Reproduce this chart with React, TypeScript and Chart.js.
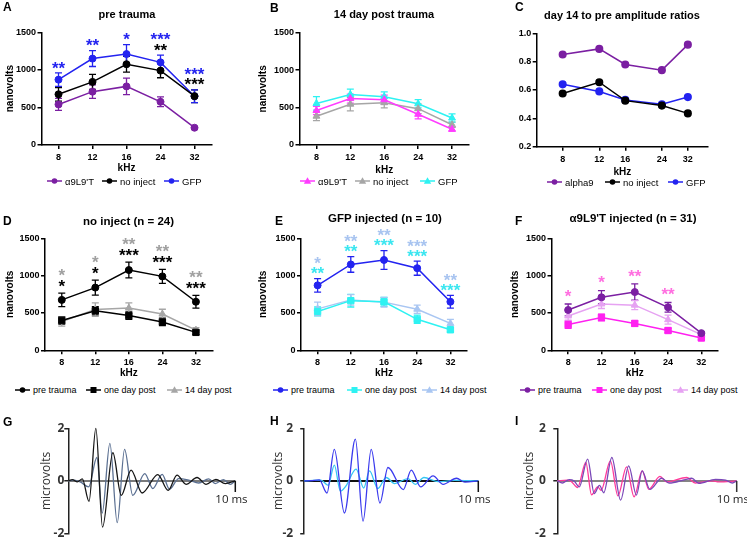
import React, { useEffect, useRef } from "react";
import { Chart, registerables } from "chart.js";
Chart.register(...registerables);

const FONT = "'Liberation Sans', Arial, Helvetica, sans-serif";
const WAVE_FONT = "'Open Sans', 'Liberation Sans', Arial, sans-serif";
Chart.defaults.font.family = FONT;
Chart.defaults.color = "#000";

// ---------- data ----------
const FREQ_LABELS = ["8", "12", "16", "24", "32"];
const FREQS = [8, 12, 16, 24, 32];

// pre trauma (nanovolts, mean and SEM)
const PRE_A9 = [540, 710, 780, 575, 230];
const PRE_A9_ERR = [80, 90, 110, 65, 15];
const PRE_NOINJ = [675, 840, 1075, 990, 650];
const PRE_NOINJ_ERR = [90, 100, 105, 95, 85];
const PRE_GFP = [870, 1150, 1210, 1100, 650];
const PRE_GFP_ERR = [90, 105, 125, 95, 85];

// one day post
const D1_NOINJ = [400, 530, 465, 380, 240];
const D1_NOINJ_ERR = [50, 55, 50, 50, 30];
const D1_GFP = [520, 665, 650, 415, 275];
const D1_GFP_ERR = [60, 85, 60, 55, 30];
const D1_A9 = [345, 440, 360, 265, 165];
const D1_A9_ERR = [50, 45, 35, 30, 25];

// 14 day post
const D14_A9 = [460, 620, 605, 410, 210];
const D14_A9_ERR = [55, 60, 60, 60, 25];
const D14_NOINJ = [385, 545, 565, 485, 270];
const D14_NOINJ_ERR = [60, 90, 70, 65, 35];
const D14_GFP = [555, 675, 645, 550, 360];
const D14_GFP_ERR = [90, 70, 65, 55, 55];

// day 14 / pre ratios
const RATIO_A9 = [0.85, 0.89, 0.78, 0.74, 0.92];
const RATIO_NOINJ = [0.575, 0.655, 0.525, 0.49, 0.435];
const RATIO_GFP = [0.64, 0.59, 0.53, 0.5, 0.55];

// significance labels per frequency
const A_STARS_NOINJ = ["", "", "", "**", "***"];
const A_STARS_GFP = ["**", "**", "*", "***", "***"];
const D_STARS_D1 = ["*", "*", "***", "***", "***"];
const D_STARS_D14 = ["*", "*", "**", "**", "**"];
const E_STARS_D1 = ["**", "**", "***", "***", "***"];
const E_STARS_D14 = ["*", "**", "**", "***", "**"];
const F_STARS_D1 = ["*", "*", "**", "**", ""];

// example waveforms (ms, microvolts)
const G_PRE_T = [0, 0.24, 0.54, 0.84, 1.24, 1.65, 2.05, 2.67, 3.17, 3.76, 4.42, 5.36, 5.98, 6.51, 7.05, 7.71, 8.25, 8.84, 9.4, 10];
const G_PRE_V = [0, 0.05, -0.04, 0.08, -0.78, 2.0, -1.76, 1.07, -0.55, 0.41, -0.46, 0.24, -0.36, 0.22, -0.13, 0.13, -0.13, 0.06, -0.1, 0];
const G_D14_T = [0, 0.34, 0.74, 1.22, 1.71, 2.03, 2.49, 2.93, 3.37, 3.86, 4.58, 5.06, 5.62, 6.06, 6.61, 7.21, 7.81, 8.41, 8.8, 9.3, 9.7, 10];
const G_D14_V = [0, 0.03, -0.05, -0.23, 0.89, -1.22, 1.43, -1.59, 1.2, -0.55, 0.28, -0.29, 0.25, -0.32, 0.09, 0.03, -0.08, 0.08, -0.1, 0.05, -0.13, 0];
const H_PRE_T = [0, 0.38, 0.87, 1.31, 1.73, 2.31, 2.94, 3.38, 3.85, 4.35, 4.81, 5.69, 6.15, 6.69, 7.4, 7.98, 8.75, 9.23, 10];
const H_PRE_V = [0, 0.01, 0.04, -0.46, 1.2, -1.22, 1.59, -1.53, 1.2, -0.84, 0.51, -0.33, 0.41, -0.23, 0.19, -0.13, 0.1, -0.05, 0];
const H_D1_T = [0, 0.96, 1.38, 1.73, 2.08, 2.4, 2.98, 3.42, 3.75, 4.23, 4.71, 5.19, 5.96, 6.38, 6.88, 7.69, 8.65, 10];
const H_D1_V = [0, 0.03, -0.17, 0.6, -0.39, -0.19, 0.45, -0.27, 0.38, -0.29, 0.13, -0.1, 0.09, -0.13, 0.13, -0.03, 0.02, 0];
const I_PRE_T = [0, 0.28, 0.66, 0.94, 1.22, 1.69, 2.06, 2.35, 2.59, 3.04, 3.53, 3.98, 4.41, 4.73, 5.16, 5.82, 6.23, 7.13, 7.5, 7.88, 8.82, 9.38, 9.76, 10];
const I_PRE_V = [0, -0.08, 0.05, 0, -0.23, 0.83, -0.48, -0.17, -0.45, 0.89, -0.73, 0.57, -0.54, 0.38, -0.32, 0.1, -0.08, 0.05, 0.1, -0.09, 0.06, 0.03, -0.08, 0];
const I_D1_T = [0, 0.56, 0.79, 1.13, 1.59, 1.91, 2.25, 2.44, 2.96, 3.38, 3.86, 4.28, 4.73, 5.1, 5.72, 6.1, 7.22, 7.69, 8.63, 9.01, 10];
const I_D1_V = [0, 0.03, -0.03, -0.25, 0.7, -0.53, -0.23, -0.36, 0.76, -0.57, 0.53, -0.61, 0.38, -0.32, 0.17, -0.04, 0.13, -0.08, 0, -0.04, 0];
const BASELINE_T = [0, 10];
const SCALE_MS = 10;
const SCALE_TICK = -0.42;

// ---------- colours ----------
const PURPLE = "#7b1fa2";
const BLUE = "#2323f0";
const BLACK = "#000000";
const MAGENTA = "#ff3cff";
const GRAY = "#a6a6a6";
const CYAN = "#2ef2f2";
const LIGHTBLUE = "#a9c6f2";
const LIGHTVIOLET = "#e6a2f2";

// ---------- plugins ----------
const errorBarsPlugin = {
  id: "errorBars",
  beforeDatasetsDraw(chart: any) {
    const ctx = chart.ctx;
    chart.data.datasets.forEach((ds: any, di: number) => {
      if (!ds.errors) return;
      const meta = chart.getDatasetMeta(di);
      const ys = chart.scales[meta.yAxisID];
      ctx.save();
      ctx.strokeStyle = ds.borderColor;
      ctx.lineWidth = 1.3;
      meta.data.forEach((pt: any, i: number) => {
        const v = ds.data[i];
        const e = ds.errors[i];
        const yT = ys.getPixelForValue(v + e);
        const yB = ys.getPixelForValue(v - e);
        const x = pt.x;
        const c = 3.5;
        ctx.beginPath();
        ctx.moveTo(x, yT);
        ctx.lineTo(x, yB);
        ctx.moveTo(x - c, yT);
        ctx.lineTo(x + c, yT);
        ctx.moveTo(x - c, yB);
        ctx.lineTo(x + c, yB);
        ctx.stroke();
      });
      ctx.restore();
    });
  },
};

type StarRow = { labels: string[]; color: string };
function makeStarsPlugin(rows: StarRow[], gap: number, rowH: number) {
  return {
    id: "stars",
    afterDatasetsDraw(chart: any) {
      if (!rows.length) return;
      const ctx = chart.ctx;
      const ys = chart.scales.y;
      const xs = chart.scales.x;
      const fs = 17;
      ctx.save();
      ctx.font = `bold ${fs}px ${FONT}`;
      ctx.textAlign = "center";
      ctx.textBaseline = "alphabetic";
      const n = chart.data.labels.length;
      for (let i = 0; i < n; i++) {
        let top = Infinity;
        chart.data.datasets.forEach((ds: any) => {
          if (ds.errors) top = Math.min(top, ys.getPixelForValue(ds.data[i] + ds.errors[i]));
        });
        const x = xs.getPixelForValue(i);
        let level = 0;
        rows.forEach((r) => {
          const s = r.labels[i];
          if (!s) return;
          const yc = top - gap - level * rowH;
          ctx.fillStyle = r.color;
          ctx.fillText(s, x, yc + 0.57 * fs);
          level++;
        });
      }
      ctx.restore();
    },
  };
}

function makeScaleLabelPlugin(text: string, color: string) {
  return {
    id: "scaleLabel",
    afterDraw(chart: any) {
      const ctx = chart.ctx;
      const x = chart.scales.x.getPixelForValue(SCALE_MS) - 20;
      const y = chart.scales.y.getPixelForValue(0) + 19;
      ctx.save();
      ctx.font = `11.5px ${WAVE_FONT}`;
      ctx.fillStyle = color;
      ctx.textAlign = "left";
      ctx.textBaseline = "middle";
      ctx.fillText(text, x, y);
      ctx.restore();
    },
  };
}

// ---------- configs ----------
type Series = { label: string; data: number[]; errors: number[]; color: string; point: string };

function axisCommon() {
  return {
    grid: { display: true, drawOnChartArea: false, drawTicks: true, tickLength: 4, color: "#000", lineWidth: 1.5 },
    border: { display: true, color: "#000", width: 1.5 },
  };
}

function lineConfig(o: {
  series: Series[];
  H: number;
  yw: number;
  padTop: number;
  padRight: number;
  chartBottom: number;
  kHzY: number;
  yTitleX: number;
  stars?: StarRow[];
  starGap?: number;
  starRowH?: number;
}) {
  const xh = o.H - o.chartBottom;
  const pb = o.H - o.kHzY - 6;
  return {
    type: "line",
    data: {
      labels: FREQ_LABELS,
      datasets: o.series.map((s) => ({
        label: s.label,
        data: s.data,
        errors: s.errors,
        borderColor: s.color,
        backgroundColor: s.color,
        pointBackgroundColor: s.color,
        pointBorderColor: s.color,
        pointStyle: s.point,
        pointRadius: s.point === "rect" ? 4.5 : s.point === "triangle" ? 4 : 3.5,
        pointBorderWidth: 1,
        borderWidth: 1.5,
        tension: 0,
        fill: false,
      })),
    },
    options: {
      responsive: false,
      animation: false,
      devicePixelRatio: 1,
      events: [],
      layout: { padding: { left: 0, top: o.padTop, right: o.padRight, bottom: 0 } },
      plugins: { legend: { display: false }, tooltip: { enabled: false }, title: { display: false } },
      scales: {
        x: {
          type: "category",
          offset: true,
          ...axisCommon(),
          grid: { ...axisCommon().grid, offset: false },
          ticks: { font: { weight: "bold", size: 9 }, color: "#000", padding: 3, maxRotation: 0, autoSkip: false },
          title: { display: true, text: "kHz", font: { weight: "bold", size: 10, lineHeight: 1.2 }, color: "#000", padding: { top: 0, bottom: pb } },
          afterFit: (s: any) => {
            s.height = xh;
          },
        },
        y: {
          min: 0,
          max: 1500,
          ...axisCommon(),
          ticks: { stepSize: 500, font: { weight: "bold", size: 9 }, color: "#000", padding: 1.5, callback: (v: any) => String(v) },
          title: { display: true, text: "nanovolts", font: { weight: "bold", size: 10, lineHeight: 1.2 }, color: "#000", padding: { top: o.yTitleX - 6, bottom: 0 } },
          afterFit: (s: any) => {
            s.width = o.yw;
          },
        },
      },
    },
    plugins: [errorBarsPlugin, makeStarsPlugin(o.stars || [], o.starGap || 9, o.starRowH || 10.5)],
  };
}

function ratioConfig() {
  const H = 180;
  const chartBottom = 146.7;
  const ser = [
    { label: "alpha9", data: RATIO_A9, color: PURPLE },
    { label: "no inject", data: RATIO_NOINJ, color: BLACK },
    { label: "GFP", data: RATIO_GFP, color: BLUE },
  ];
  return {
    type: "line",
    data: {
      datasets: ser.map((s) => ({
        label: s.label,
        data: FREQS.map((f, i) => ({ x: f, y: s.data[i] })),
        borderColor: s.color,
        backgroundColor: s.color,
        pointBackgroundColor: s.color,
        pointBorderColor: s.color,
        pointRadius: 3.3,
        borderWidth: 1.5,
        tension: 0,
      })),
    },
    options: {
      responsive: false,
      animation: false,
      devicePixelRatio: 1,
      events: [],
      layout: { padding: { left: 0, top: 33.3, right: 39, bottom: 0 } },
      plugins: { legend: { display: false }, tooltip: { enabled: false } },
      scales: {
        x: {
          type: "logarithmic",
          min: 6,
          max: 40,
          ...axisCommon(),
          afterBuildTicks: (s: any) => {
            s.ticks = FREQS.map((v) => ({ value: v }));
          },
          ticks: { font: { weight: "bold", size: 9 }, color: "#000", padding: 3, autoSkip: false, maxRotation: 0, callback: (v: any) => String(v) },
          title: { display: true, text: "kHz", font: { weight: "bold", size: 10, lineHeight: 1.2 }, color: "#000", padding: { top: 0, bottom: H - 172 - 6 } },
          afterFit: (s: any) => {
            s.height = H - chartBottom;
          },
        },
        y: {
          min: 0.2,
          max: 1.0,
          ...axisCommon(),
          ticks: { stepSize: 0.2, font: { weight: "bold", size: 9 }, color: "#000", padding: 1.5, callback: (v: any) => Number(v).toFixed(1) },
          afterFit: (s: any) => {
            s.width = 36.7;
          },
        },
      },
    },
  };
}

type Trace = { label: string; t: number[]; v: number[]; color: string };
function waveConfig(o: {
  traces: Trace[];
  zeroColor: string;
  tickColor: string;
  yw: number;
  padRight: number;
  tickPad: number;
  titleX: number;
}) {
  const H = 128;
  const top = 428.3 - 410;
  const bottom = 533.5 - 410;
  const datasets: any[] = o.traces.map((tr) => ({
    label: tr.label,
    data: tr.t.map((t, i) => ({ x: t, y: tr.v[i] })),
    borderColor: tr.color,
    borderWidth: 1.3,
    pointRadius: 0,
    cubicInterpolationMode: "monotone",
    fill: false,
    clip: false,
    order: 1,
  }));
  datasets.push({
    label: "baseline",
    data: BASELINE_T.map((t) => ({ x: t, y: 0 })),
    borderColor: o.zeroColor,
    borderWidth: 2,
    pointRadius: 0,
    clip: false,
    order: 2,
  });
  datasets.push({
    label: "scale",
    data: [
      { x: SCALE_MS, y: 0 },
      { x: SCALE_MS, y: SCALE_TICK },
    ],
    borderColor: o.tickColor,
    borderWidth: 1.5,
    pointRadius: 0,
    clip: false,
    order: 0,
  });
  return {
    type: "line",
    data: { datasets },
    options: {
      responsive: false,
      animation: false,
      devicePixelRatio: 1,
      events: [],
      layout: { padding: { left: 0, top, right: o.padRight, bottom: H - bottom } },
      plugins: { legend: { display: false }, tooltip: { enabled: false } },
      scales: {
        x: { type: "linear", min: 0, max: 10, display: false },
        y: {
          min: -2,
          max: 2,
          grid: { display: true, drawOnChartArea: false, drawTicks: true, tickLength: 4, color: "#222", lineWidth: 1.5 },
          border: { display: true, color: "#222", width: 1.5 },
          ticks: { stepSize: 2, font: { weight: "bold", size: 12, family: WAVE_FONT }, color: "#333", padding: o.tickPad, callback: (v: any) => String(v) },
          title: { display: true, text: "microvolts", font: { size: 12, family: WAVE_FONT, lineHeight: 1.2 }, color: "#333", padding: { top: o.titleX - 7.2, bottom: 0 } },
          afterFit: (s: any) => {
            s.width = o.yw;
            s.paddingTop = 0;
            s.paddingBottom = 0;
          },
        },
      },
    },
    plugins: [makeScaleLabelPlugin("10 ms", "#222")],
  };
}

// ---------- components ----------
function ChartBox({ left, top, width, height, make }: { left: number; top: number; width: number; height: number; make: () => any }) {
  const ref = useRef<HTMLCanvasElement>(null);
  useEffect(() => {
    const chart = new Chart(ref.current as HTMLCanvasElement, make());
    return () => chart.destroy();
  }, []);
  return <canvas ref={ref} width={width} height={height} style={{ position: "absolute", left, top, width, height }} />;
}

function Txt({ x, cy, text, size, bold, center }: { x: number; cy: number; text: string; size: number; bold?: boolean; center?: boolean }) {
  const style: any = {
    position: "absolute",
    top: cy - size * 0.6,
    height: size * 1.2,
    lineHeight: `${size * 1.2}px`,
    font: `${bold ? "bold " : ""}${size}px ${FONT}`,
    color: "#000",
    whiteSpace: "nowrap",
  };
  if (center) {
    style.left = x - 150;
    style.width = 300;
    style.textAlign = "center";
  } else {
    style.left = x;
  }
  return <div style={style}>{text}</div>;
}

function LegendItem({ x, y, color, marker, label, size }: { x: number; y: number; color: string; marker: string; label: string; size: number }) {
  return (
    <div style={{ position: "absolute", left: x, top: y - 7, height: 14, display: "flex", alignItems: "center", whiteSpace: "nowrap", font: `${size}px ${FONT}`, color: "#000" }}>
      <svg width={15} height={10} style={{ marginRight: 3, display: "block" }}>
        <line x1={0} y1={5} x2={15} y2={5} stroke={color} strokeWidth={1.5} />
        {marker === "circle" && <circle cx={7.5} cy={5} r={2.8} fill={color} />}
        {marker === "rect" && <rect x={4.5} y={2} width={6} height={6} fill={color} />}
        {marker === "triangle" && <polygon points="7.5,1.3 11.2,7.8 3.8,7.8" fill={color} />}
      </svg>
      <span>{label}</span>
    </div>
  );
}

const A9 = "α9L9'T";

export default function App() {
  return (
    <div style={{ position: "fixed", left: 0, top: 0, width: 747, height: 538, background: "#fff", overflow: "hidden" }}>
      {/* row 1 */}
      <ChartBox
        left={0}
        top={0}
        width={250}
        height={176}
        make={() =>
          lineConfig({
            series: [
              { label: A9, data: PRE_A9, errors: PRE_A9_ERR, color: PURPLE, point: "circle" },
              { label: "no inject", data: PRE_NOINJ, errors: PRE_NOINJ_ERR, color: BLACK, point: "circle" },
              { label: "GFP", data: PRE_GFP, errors: PRE_GFP_ERR, color: BLUE, point: "circle" },
            ],
            H: 176,
            yw: 41.5,
            padTop: 32.3,
            padRight: 38.5,
            chartBottom: 145,
            kHzY: 168,
            yTitleX: 10,
            stars: [
              { labels: A_STARS_NOINJ, color: BLACK },
              { labels: A_STARS_GFP, color: BLUE },
            ],
            starGap: 9,
            starRowH: 10.5,
          })
        }
      />
      <ChartBox
        left={250}
        top={0}
        width={250}
        height={176}
        make={() =>
          lineConfig({
            series: [
              { label: A9, data: D14_A9, errors: D14_A9_ERR, color: MAGENTA, point: "triangle" },
              { label: "no inject", data: D14_NOINJ, errors: D14_NOINJ_ERR, color: GRAY, point: "triangle" },
              { label: "GFP", data: D14_GFP, errors: D14_GFP_ERR, color: CYAN, point: "triangle" },
            ],
            H: 176,
            yw: 49.5,
            padTop: 32.7,
            padRight: 31,
            chartBottom: 145,
            kHzY: 170,
            yTitleX: 13,
          })
        }
      />
      <ChartBox left={500} top={0} width={247} height={180} make={() => ratioConfig()} />

      {/* row 2 */}
      <ChartBox
        left={0}
        top={190}
        width={250}
        height={190}
        make={() =>
          lineConfig({
            series: [
              { label: "pre trauma", data: PRE_NOINJ, errors: PRE_NOINJ_ERR, color: BLACK, point: "circle" },
              { label: "one day post", data: D1_NOINJ, errors: D1_NOINJ_ERR, color: BLACK, point: "rect" },
              { label: "14 day post", data: D14_NOINJ, errors: D14_NOINJ_ERR, color: GRAY, point: "triangle" },
            ],
            H: 190,
            yw: 45,
            padTop: 48.3,
            padRight: 37.3,
            chartBottom: 160.3,
            kHzY: 183.3,
            yTitleX: 10,
            stars: [
              { labels: D_STARS_D1, color: BLACK },
              { labels: D_STARS_D14, color: "#a0a0a0" },
            ],
            starGap: 11,
            starRowH: 11,
          })
        }
      />
      <ChartBox
        left={250}
        top={190}
        width={250}
        height={190}
        make={() =>
          lineConfig({
            series: [
              { label: "pre trauma", data: PRE_GFP, errors: PRE_GFP_ERR, color: BLUE, point: "circle" },
              { label: "one day post", data: D1_GFP, errors: D1_GFP_ERR, color: CYAN, point: "rect" },
              { label: "14 day post", data: D14_GFP, errors: D14_GFP_ERR, color: LIGHTBLUE, point: "triangle" },
            ],
            H: 190,
            yw: 51,
            padTop: 48.3,
            padRight: 33,
            chartBottom: 160.3,
            kHzY: 183.3,
            yTitleX: 13,
            stars: [
              { labels: E_STARS_D1, color: "#3ae6f0" },
              { labels: E_STARS_D14, color: "#a8c4f0" },
            ],
            starGap: 9,
            starRowH: 10,
          })
        }
      />
      <ChartBox
        left={500}
        top={190}
        width={247}
        height={190}
        make={() =>
          lineConfig({
            series: [
              { label: "pre trauma", data: PRE_A9, errors: PRE_A9_ERR, color: PURPLE, point: "circle" },
              { label: "one day post", data: D1_A9, errors: D1_A9_ERR, color: "#ff20f0", point: "rect" },
              { label: "14 day post", data: D14_A9, errors: D14_A9_ERR, color: LIGHTVIOLET, point: "triangle" },
            ],
            H: 190,
            yw: 51.5,
            padTop: 48.3,
            padRight: 29,
            chartBottom: 160.3,
            kHzY: 183.3,
            yTitleX: 15.5,
            stars: [{ labels: F_STARS_D1, color: "#ff6ee0" }],
            starGap: 12,
            starRowH: 10,
          })
        }
      />

      {/* row 3: waveforms */}
      <ChartBox
        left={0}
        top={410}
        width={250}
        height={128}
        make={() =>
          waveConfig({
            traces: [
              { label: "pre trauma", t: G_PRE_T, v: G_PRE_V, color: "#151515" },
              { label: "14 day post", t: G_D14_T, v: G_D14_V, color: "#5b7092" },
            ],
            zeroColor: "#7a7a7a",
            tickColor: "#111",
            yw: 68.3,
            padRight: 14.7,
            tickPad: 0,
            titleX: 46.7,
          })
        }
      />
      <ChartBox
        left={250}
        top={410}
        width={250}
        height={128}
        make={() =>
          waveConfig({
            traces: [
              { label: "pre trauma", t: H_PRE_T, v: H_PRE_V, color: "#3a3aee" },
              { label: "one day post", t: H_D1_T, v: H_D1_V, color: "#36c6f2" },
            ],
            zeroColor: "#111",
            tickColor: "#111",
            yw: 54.2,
            padRight: 21.7,
            tickPad: 7,
            titleX: 29,
          })
        }
      />
      <ChartBox
        left={500}
        top={410}
        width={247}
        height={128}
        make={() =>
          waveConfig({
            traces: [
              { label: "pre trauma", t: I_PRE_T, v: I_PRE_V, color: "#7a48b8" },
              { label: "one day post", t: I_D1_T, v: I_D1_V, color: "#ff3a9a" },
            ],
            zeroColor: "#858585",
            tickColor: "#333",
            yw: 57.3,
            padRight: 10.3,
            tickPad: 7.5,
            titleX: 30,
          })
        }
      />

      {/* panel letters */}
      <Txt x={3} cy={7.5} text="A" size={12} bold />
      <Txt x={270} cy={8} text="B" size={12} bold />
      <Txt x={515} cy={7.5} text="C" size={12} bold />
      <Txt x={3} cy={221.5} text="D" size={12} bold />
      <Txt x={275} cy={221.5} text="E" size={12} bold />
      <Txt x={515} cy={221.5} text="F" size={12} bold />
      <Txt x={3} cy={422} text="G" size={12} bold />
      <Txt x={270} cy={421} text="H" size={12} bold />
      <Txt x={515} cy={421.5} text="I" size={12} bold />

      {/* titles */}
      <Txt x={127} cy={14.7} text="pre trauma" size={11} bold center />
      <Txt x={384} cy={15} text="14 day post trauma" size={11} bold center />
      <Txt x={622} cy={15.7} text="day 14 to pre amplitude ratios" size={11} bold center />
      <Txt x={128.5} cy={221.7} text="no inject (n = 24)" size={11.5} bold center />
      <Txt x={385} cy={219.3} text="GFP injected (n = 10)" size={11.5} bold center />
      <Txt x={633} cy={219.3} text={`${A9} injected (n = 31)`} size={11.5} bold center />

      {/* legends */}
      <LegendItem x={47} y={181} color={PURPLE} marker="circle" label={A9} size={9.5} />
      <LegendItem x={102} y={181} color={BLACK} marker="circle" label="no inject" size={9.5} />
      <LegendItem x={164} y={181} color={BLUE} marker="circle" label="GFP" size={9.5} />

      <LegendItem x={300} y={181} color={MAGENTA} marker="triangle" label={A9} size={9.5} />
      <LegendItem x={355} y={181} color={GRAY} marker="triangle" label="no inject" size={9.5} />
      <LegendItem x={420} y={181} color={CYAN} marker="triangle" label="GFP" size={9.5} />

      <LegendItem x={547} y={182} color={PURPLE} marker="circle" label="alpha9" size={9.5} />
      <LegendItem x={605} y={182} color={BLACK} marker="circle" label="no inject" size={9.5} />
      <LegendItem x={668} y={182} color={BLUE} marker="circle" label="GFP" size={9.5} />

      <LegendItem x={15} y={390} color={BLACK} marker="circle" label="pre trauma" size={9} />
      <LegendItem x={86} y={390} color={BLACK} marker="rect" label="one day post" size={9} />
      <LegendItem x={167} y={390} color={GRAY} marker="triangle" label="14 day post" size={9} />

      <LegendItem x={273} y={390} color={BLUE} marker="circle" label="pre trauma" size={9} />
      <LegendItem x={347} y={390} color={CYAN} marker="rect" label="one day post" size={9} />
      <LegendItem x={422} y={390} color={LIGHTBLUE} marker="triangle" label="14 day post" size={9} />

      <LegendItem x={520} y={390} color={PURPLE} marker="circle" label="pre trauma" size={9} />
      <LegendItem x={592} y={390} color="#ff20f0" marker="rect" label="one day post" size={9} />
      <LegendItem x={673} y={390} color={LIGHTVIOLET} marker="triangle" label="14 day post" size={9} />
    </div>
  );
}
